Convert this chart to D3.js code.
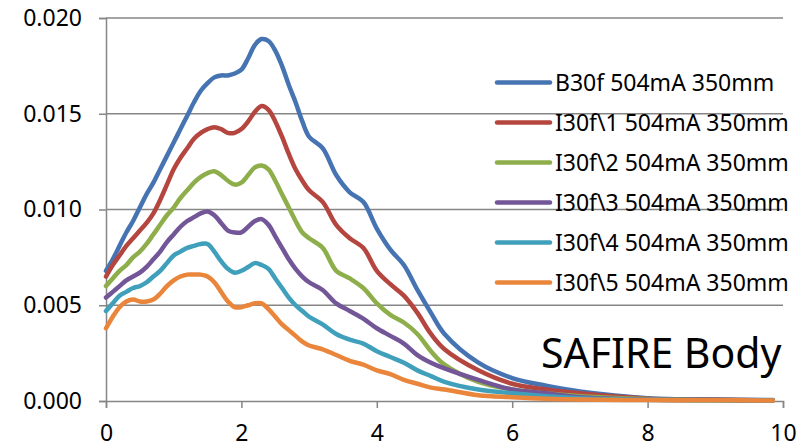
<!DOCTYPE html>
<html lang="en">
<head>
<meta charset="UTF-8">
<title>SAFIRE Body</title>
<style>
  body { margin: 0; background: #fff; }
  svg { display: block; }
  text { font-family: "Noto Sans", "Open Sans", sans-serif; fill: #000; }
</style>
</head>
<body>
<svg width="811" height="448"></svg>
<script src="https://d3js.org/d3.v7.min.js"></script>
<script>
// x positions shared by every series
const xs = [0,0.1,0.2,0.3,0.4,0.5,0.6,0.7,0.8,0.9,1.0,1.1,1.2,1.3,1.4,1.5,1.6,1.7,1.8,1.9,
            2.0,2.1,2.2,2.3,2.4,2.5,2.6,2.7,2.8,2.9,3.0,3.2,3.4,3.6,3.8,4.0,4.2,4.4,4.6,4.8,
            5.0,5.5,6.0,6.5,7.0,8.0,9.0,9.85];

const b30f = [0.0068,0.0074,0.0081,0.0088,0.0094,0.0101,0.0108,0.0114,0.0121,0.0128,
              0.0135,0.0142,0.0149,0.0156,0.0162,0.0166,0.0169,0.0170,0.0170,0.0171,
              0.0173,0.0179,0.0186,0.0189,0.0188,0.0183,0.0175,0.0165,0.0156,0.0146,
              0.0138,0.0132,0.0118,0.0109,0.0104,0.0090,0.0079,0.0071,0.0058,0.0046,
              0.0035,0.0020,0.0012,0.0008,0.0005,0.00015,0.00008,0.00005];

const i30f1 = [0.0065,0.0071,0.0076,0.0081,0.0085,0.0089,0.0093,0.0098,0.0105,0.0113,
               0.0121,0.0127,0.0132,0.0137,0.0140,0.0142,0.0143,0.0142,0.0140,0.0140,
               0.0142,0.0146,0.0151,0.0154,0.0152,0.0146,0.0138,0.0129,0.0121,0.0115,
               0.0110,0.0104,0.0092,0.0085,0.0080,0.0068,0.0061,0.0055,0.0046,0.0035,
               0.0027,0.0016,0.0009,0.0006,0.0004,0.00012,0.00006,0.00004];

const i30f2 = [0.0060,0.0064,0.0068,0.0071,0.0075,0.0078,0.0082,0.0087,0.0092,0.0097,
               0.0101,0.0106,0.0110,0.0114,0.0117,0.0119,0.0120,0.0118,0.0115,0.0113,
               0.0114,0.0118,0.0122,0.0123,0.0121,0.0115,0.0108,0.0101,0.0094,0.0088,
               0.0085,0.0080,0.0068,0.0064,0.0059,0.0051,0.0045,0.0041,0.0035,0.0026,
               0.0019,0.0010,0.0006,0.0004,0.00025,0.0001,0.00005,0.00004];

const i30f3 = [0.0054,0.0057,0.0060,0.0063,0.0065,0.0067,0.0070,0.0074,0.0078,0.0083,
               0.0087,0.0091,0.0094,0.0096,0.0098,0.0099,0.0097,0.0093,0.0089,0.0088,
               0.0088,0.0091,0.0094,0.0095,0.0092,0.0086,0.0080,0.0074,0.0069,0.0065,
               0.0062,0.0058,0.0051,0.0047,0.0043,0.0038,0.0034,0.0030,0.0024,0.0020,
               0.0017,0.0011,0.0006,0.0004,0.0002,0.00008,0.00005,0.00003];

const i30f4 = [0.0047,0.0051,0.0055,0.0057,0.0059,0.0060,0.0062,0.0065,0.0068,0.0072,
               0.0076,0.0078,0.0080,0.0081,0.0082,0.0082,0.0078,0.0073,0.0069,0.0067,
               0.0068,0.0070,0.0072,0.0071,0.0069,0.0064,0.0059,0.0054,0.0050,0.0047,
               0.0044,0.0040,0.0035,0.0032,0.0030,0.0026,0.0023,0.0020,0.0016,0.0013,
               0.0010,0.0006,0.0004,0.00025,0.00015,0.00006,0.00004,0.00003];

const i30f5 = [0.0038,0.0044,0.0049,0.0052,0.0053,0.0052,0.0052,0.0053,0.0056,0.0060,
               0.0063,0.0065,0.0066,0.0066,0.0066,0.0065,0.0062,0.0057,0.0052,0.0049,
               0.0049,0.0050,0.0051,0.0051,0.0048,0.0044,0.0040,0.0037,0.0034,0.0031,
               0.0029,0.0027,0.0024,0.0021,0.0019,0.0016,0.0014,0.0011,0.0009,0.0007,
               0.0006,0.0003,0.0002,0.00012,0.00008,0.00005,0.00004,0.00003];

const names = ["B30f 504mA 350mm", "I30f\\1 504mA 350mm", "I30f\\2 504mA 350mm",
               "I30f\\3 504mA 350mm", "I30f\\4 504mA 350mm", "I30f\\5 504mA 350mm"];
const colors = ["#4674B2", "#B5453F", "#8DAE4A", "#735697", "#40A0BC", "#EA863B"];
const yTicks = [0, 0.005, 0.010, 0.015, 0.020];
const xTicks = [0, 2, 4, 6, 8, 10];

const series = [b30f, i30f1, i30f2, i30f3, i30f4, i30f5].map((vals, i) => ({
  name: names[i],
  color: colors[i],
  points: xs.map((x, j) => [x, vals[j]])
}));

const svg = d3.select("svg");
const x = d3.scaleLinear().domain([0, 10]).range([106, 783]);
const y = d3.scaleLinear().domain([0, 0.02]).range([401, 18]);
const axisColor = "#868686";

// horizontal grid
svg.append("g")
  .selectAll("line")
  .data(yTicks.filter(d => d > 0))
  .join("line")
  .attr("x1", x(0)).attr("x2", x(10))
  .attr("y1", d => y(d)).attr("y2", d => y(d))
  .attr("stroke", axisColor).attr("stroke-width", 1.5);

// y axis
const yAxis = svg.append("g")
  .attr("transform", `translate(${x(0)},0)`)
  .call(d3.axisLeft(y).tickValues(yTicks).tickFormat(d3.format(".3f")).tickSize(7).tickPadding(17));
yAxis.select(".domain").attr("stroke", axisColor).attr("stroke-width", 1.5);
yAxis.selectAll(".tick line").attr("stroke", axisColor).attr("stroke-width", 1.5);
yAxis.selectAll("text").style("font-size", "23px").attr("fill", "#000");

// x axis
const xAxis = svg.append("g")
  .attr("transform", `translate(0,${y(0)})`)
  .call(d3.axisBottom(x).tickValues(xTicks).tickFormat(d3.format("d")).tickSize(7).tickPadding(17));
xAxis.select(".domain").attr("stroke", axisColor).attr("stroke-width", 1.5);
xAxis.selectAll(".tick line").attr("stroke", axisColor).attr("stroke-width", 1.5);
xAxis.selectAll("text").style("font-size", "23px").attr("fill", "#000");

// lines
const line = d3.line()
  .x(d => x(d[0]))
  .y(d => y(d[1]))
  .curve(d3.curveCatmullRom.alpha(0.5));

svg.append("g")
  .selectAll("path")
  .data(series)
  .join("path")
  .attr("d", d => line(d.points))
  .attr("fill", "none")
  .attr("stroke", d => d.color)
  .attr("stroke-width", 4.5)
  .attr("stroke-linejoin", "round")
  .attr("stroke-linecap", "round");

// legend
const legend = svg.append("g")
  .selectAll("g")
  .data(series)
  .join("g")
  .attr("transform", (d, i) => `translate(497,${82.5 + i * 40})`);

legend.append("line")
  .attr("x1", 0).attr("x2", 53)
  .attr("stroke", d => d.color)
  .attr("stroke-width", 4.5)
  .attr("stroke-linecap", "round");

legend.append("text")
  .attr("x", 58)
  .attr("dy", "0.35em")
  .style("font-size", "23px")
  .text(d => d.name);

// title
svg.append("text")
  .attr("x", 541)
  .attr("y", 368)
  .style("font-size", "41px")
  .text("SAFIRE Body");
</script>
</body>
</html>
